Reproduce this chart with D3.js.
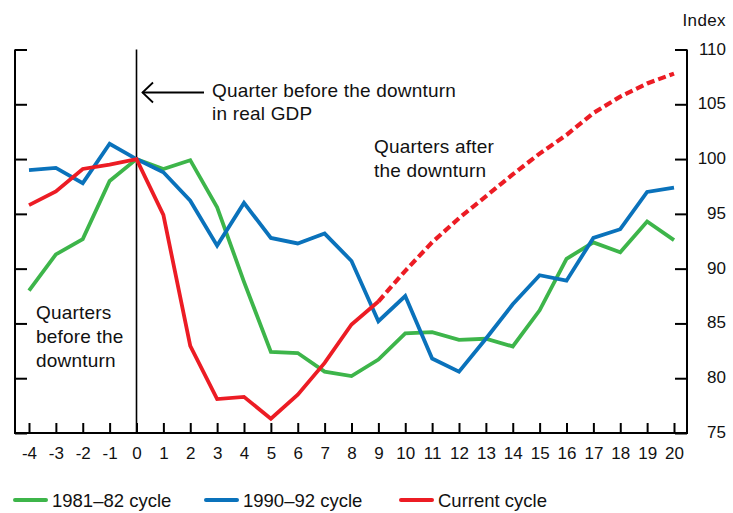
<!DOCTYPE html>
<html>
<head>
<meta charset="utf-8">
<script src="https://cdn.jsdelivr.net/npm/d3@7"></script>
<style>
  html, body { margin: 0; padding: 0; background: #fff; }
  svg { display: block; font-family: "Liberation Sans", Arial, sans-serif; }
</style>
</head>
<body>
<svg id="chart" width="733" height="513"></svg>
<script>
// ---- data ----
const quarters = [-4,-3,-2,-1,0,1,2,3,4,5,6,7,8,9,10,11,12,13,14,15,16,17,18,19,20];
const cycle1981 = [88.0, 91.3, 92.7, 98.0, 100, 99.1, 99.9, 95.6, 88.8, 82.4, 82.3, 80.6, 80.2, 81.7, 84.1, 84.2, 83.5, 83.6, 82.9, 86.2, 90.9, 92.4, 91.5, 94.3, 92.6];
const cycle1990 = [99.0, 99.2, 97.8, 101.4, 100, 98.8, 96.2, 92.1, 96.0, 92.8, 92.3, 93.2, 90.7, 85.2, 87.5, 81.8, 80.6, 83.6, 86.75, 89.4, 88.9, 92.8, 93.6, 97.0, 97.4];
const currentQuarters = [-4,-3,-2,-1,0,1,2,3,4,5,6,7,8,9];
const currentActual = [95.8, 97.05, 99.1, 99.5, 100, 94.9, 82.95, 78.1, 78.3, 76.3, 78.5, 81.4, 84.9, 87.0];
const projQuarters = [9,10,11,12,13,14,15,16,17,18,19,20];
const currentProjected = [87.0, 89.8, 92.4, 94.6, 96.6, 98.6, 100.5, 102.2, 104.2, 105.7, 106.9, 107.8];
const yTicks = [75, 80, 85, 90, 95, 100, 105, 110];
const seriesNames = ["1981–82 cycle", "1990–92 cycle", "Current cycle"];
const colors = ["#3db54a", "#0a72bb", "#ec1c24"];

// ---- scales ----
const svg = d3.select("#chart");
const x = d3.scaleLinear().domain([-4, 20]).range([29, 674]);
const y = d3.scaleLinear().domain([75, 110]).range([433, 49.5]);
const frameL = 15, frameR = 687, frameT = 49.5, frameB = 433;

// ---- frame ----
const frame = svg.append("g").attr("stroke", "#000").attr("stroke-width", 2);
frame.append("line").attr("x1", frameL).attr("x2", frameL).attr("y1", frameT).attr("y2", frameB + 1);
frame.append("line").attr("x1", frameR).attr("x2", frameR).attr("y1", frameT).attr("y2", frameB + 1);
frame.append("line").attr("x1", frameL - 1).attr("x2", frameR + 1).attr("y1", frameB).attr("y2", frameB);

// left axis ticks (inward, no labels)
const leftAxis = svg.append("g").attr("transform", `translate(${frameL},0)`)
  .call(d3.axisRight(y).tickValues(yTicks).tickSize(12).tickFormat(""));
// right axis ticks (inward) + labels
const rightAxis = svg.append("g").attr("transform", `translate(${frameR},0)`)
  .call(d3.axisRight(y).tickValues(yTicks).tickSize(-12).tickPadding(0));
rightAxis.selectAll("text")
  .attr("x", 726 - frameR).attr("dy", null).attr("y", 4.5)
  .attr("text-anchor", "end").attr("font-size", 17).attr("fill", "#111");
// bottom axis ticks (inward) + labels
const bottomAxis = svg.append("g").attr("transform", `translate(0,${frameB})`)
  .call(d3.axisBottom(x).tickValues(quarters).tickSize(-10).tickPadding(0).tickFormat(d => d < 0 ? "-" + Math.abs(d) : String(d)));
bottomAxis.selectAll("text").attr("dy", null).attr("y", 26).attr("font-size", 17).attr("fill", "#111");

[leftAxis, rightAxis, bottomAxis].forEach(g => {
  g.select(".domain").remove();
  g.selectAll(".tick line").attr("stroke", "#000").attr("stroke-width", 2);
  g.attr("font-family", null).attr("font-size", null);
});

svg.append("text").attr("x", 726).attr("y", 26).attr("text-anchor", "end")
  .attr("font-size", 17).attr("letter-spacing", 0.4).attr("fill", "#111").text("Index");

// vertical line at quarter 0
svg.append("line").attr("x1", x(0)).attr("x2", x(0)).attr("y1", frameT).attr("y2", frameB)
  .attr("stroke", "#000").attr("stroke-width", 1.6);

// ---- lines ----
const line = d3.line().x(d => x(d[0])).y(d => y(d[1]));
const g = svg.append("g").attr("fill", "none").attr("stroke-width", 3.8).attr("stroke-linejoin", "miter");
g.append("path").attr("d", line(d3.zip(quarters, cycle1981))).attr("stroke", colors[0]);
g.append("path").attr("d", line(d3.zip(quarters, cycle1990))).attr("stroke", colors[1]);
g.append("path").attr("d", line(d3.zip(currentQuarters, currentActual))).attr("stroke", colors[2]);
g.append("path").attr("d", line(d3.zip(projQuarters, currentProjected))).attr("stroke", colors[2])
  .attr("stroke-width", 4.2).attr("stroke-dasharray", "8,4");

// ---- annotations ----
const ann = svg.append("g").attr("font-size", 19).attr("letter-spacing", 0.2).attr("fill", "#111");
const t1 = ann.append("text").attr("x", 212).attr("y", 96.5);
t1.append("tspan").attr("x", 212).text("Quarter before the downturn");
t1.append("tspan").attr("x", 212).attr("dy", 23).text("in real GDP");
const t2 = ann.append("text").attr("x", 374).attr("y", 152.5);
t2.append("tspan").attr("x", 374).text("Quarters after");
t2.append("tspan").attr("x", 374).attr("dy", 24).text("the downturn");
const t3 = ann.append("text").attr("x", 36).attr("y", 318.5);
t3.append("tspan").attr("x", 36).text("Quarters");
t3.append("tspan").attr("x", 36).attr("dy", 24).text("before the");
t3.append("tspan").attr("x", 36).attr("dy", 24).text("downturn");

// arrow
const arrow = svg.append("g").attr("stroke", "#000").attr("stroke-width", 1.8).attr("fill", "none");
arrow.append("line").attr("x1", x(0) + 6).attr("x2", 204).attr("y1", 92.5).attr("y2", 92.5);
arrow.append("path").attr("d", `M${x(0) + 16.5},82.5 L${x(0) + 6},92.5 L${x(0) + 16.5},102.5`);

// ---- legend ----
const legendX = [15, 206, 401];
const leg = svg.append("g");
seriesNames.forEach((name, i) => {
  leg.append("line").attr("x1", legendX[i]).attr("x2", legendX[i] + 31)
    .attr("y1", 500).attr("y2", 500).attr("stroke", colors[i]).attr("stroke-width", 4).attr("stroke-linecap", "round");
  leg.append("text").attr("x", legendX[i] + 37).attr("y", 506.5).attr("font-size", 18.5).attr("fill", "#111").text(name);
});
</script>
</body>
</html>
